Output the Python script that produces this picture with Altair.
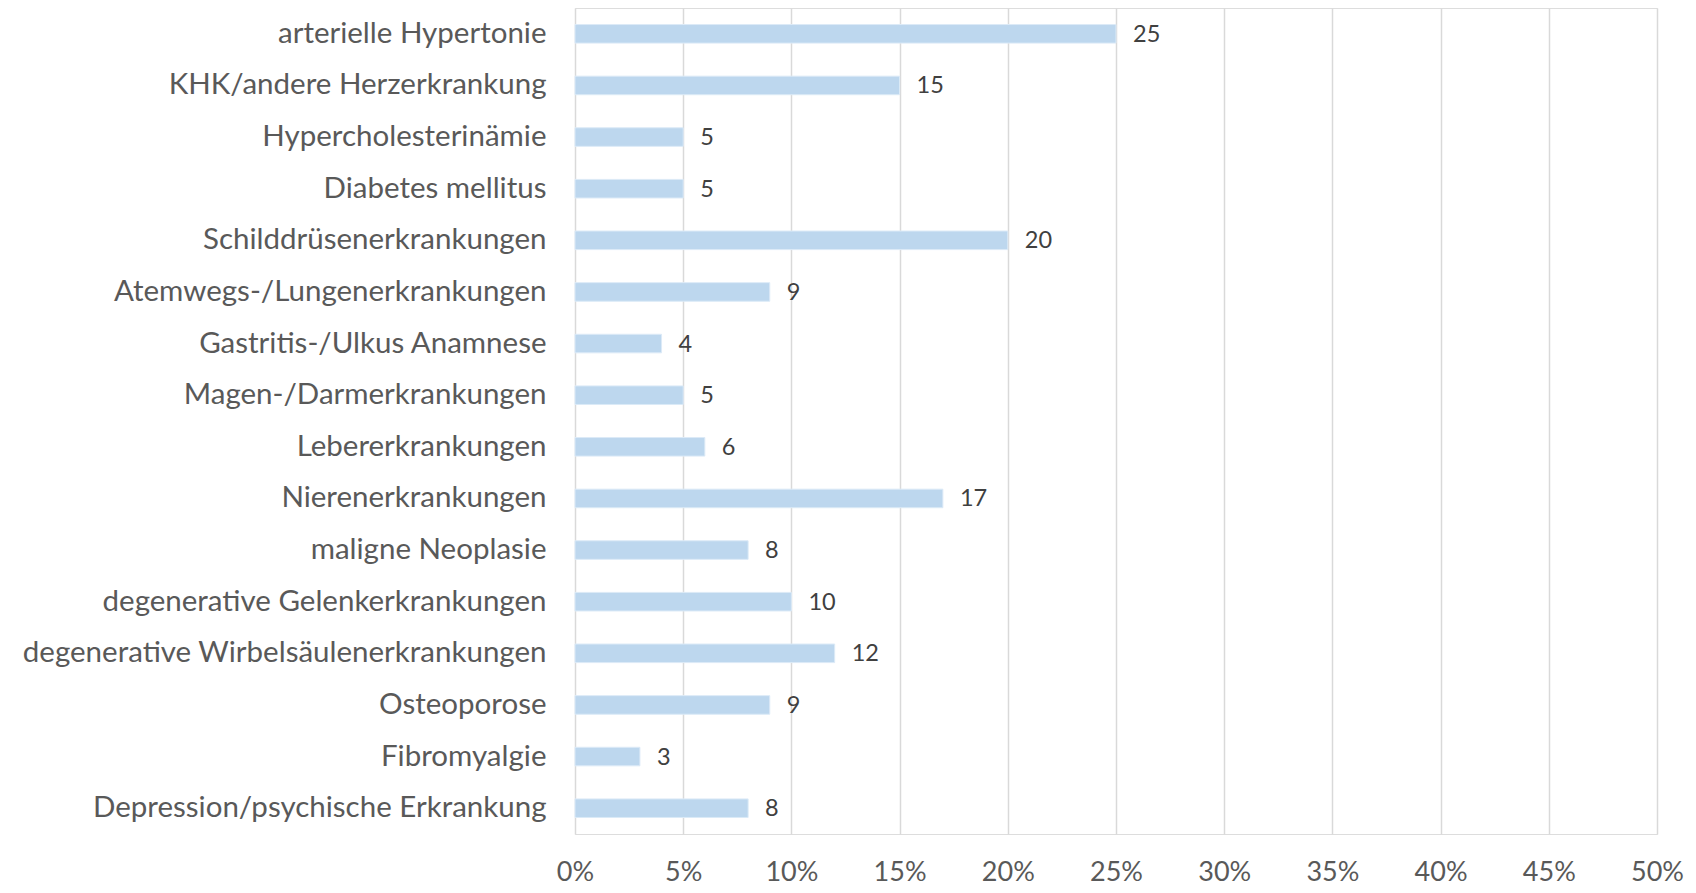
import altair as alt
import pandas as pd

categories = [
    "arterielle Hypertonie",
    "KHK/andere Herzerkrankung",
    "Hypercholesterinämie",
    "Diabetes mellitus",
    "Schilddrüsenerkrankungen",
    "Atemwegs-/Lungenerkrankungen",
    "Gastritis-/Ulkus Anamnese",
    "Magen-/Darmerkrankungen",
    "Lebererkrankungen",
    "Nierenerkrankungen",
    "maligne Neoplasie",
    "degenerative Gelenkerkrankungen",
    "degenerative Wirbelsäulenerkrankungen",
    "Osteoporose",
    "Fibromyalgie",
    "Depression/psychische Erkrankung",
]
counts = [25, 15, 5, 5, 20, 9, 4, 5, 6, 17, 8, 10, 12, 9, 3, 8]
percent = [c / 100 for c in counts]
x_ticks = [0, 0.05, 0.10, 0.15, 0.20, 0.25, 0.30, 0.35, 0.40, 0.45, 0.50]

df = pd.DataFrame({"cat": categories, "n": counts, "pct": percent})

FONT = "Lato"

y = alt.Y("cat:N", sort=categories, title=None,
          scale=alt.Scale(paddingInner=0.64, paddingOuter=0.32),
          axis=alt.Axis(labelFontSize=29.5, labelColor="#595959", labelFont=FONT,
                        ticks=False, domain=False, labelPadding=29, labelLimit=700))
x = alt.X("pct:Q", title=None,
          scale=alt.Scale(domain=[0, 0.5], nice=False),
          axis=alt.Axis(format=".0%", values=x_ticks, labelFlush=False,
                        labelFontSize=27, labelColor="#595959", labelFont=FONT,
                        ticks=False, domain=False, labelPadding=25,
                        grid=True, gridColor="#D9D9D9", gridWidth=1.5))

bars = alt.Chart(df).mark_bar(color="#BDD7EE", stroke="#DCEAF7", strokeWidth=1).encode(x=x, y=y)
labels = alt.Chart(df).mark_text(align="left", baseline="middle", dx=17, dy=1,
                                 fontSize=23.5, font=FONT, color="#404040").encode(
    x="pct:Q", y=alt.Y("cat:N", sort=categories), text="n:Q")

chart = (bars + labels).properties(
    width=1082, height=826,
    autosize=alt.AutoSizeParams(type="none"),
    padding={"left": 567, "top": 0, "right": 30, "bottom": 58},
).configure_view(stroke=None).configure(background="white")

chart.save("out.html", embed_options={"renderer": "svg", "actions": False})
